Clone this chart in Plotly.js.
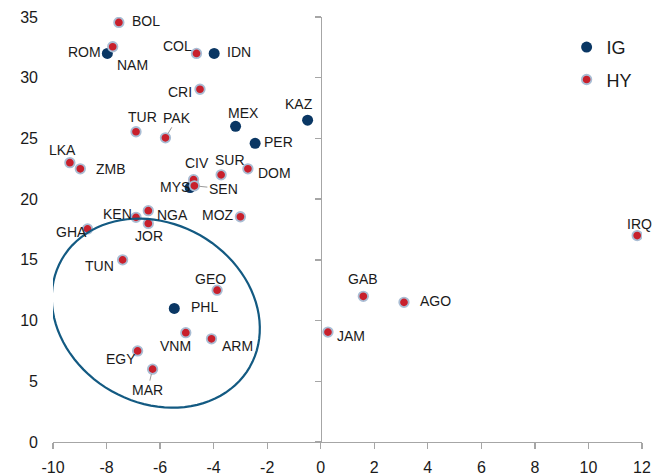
<!DOCTYPE html>
<html>
<head>
<meta charset="utf-8">
<script src="https://cdn.plot.ly/plotly-3.0.1.min.js"></script>
<style>html,body{margin:0;padding:0;background:#fff;}#chart{width:667px;height:474px;}</style>
</head>
<body>
<div id="chart"></div>
<script>
// ---- Data ----
const igCodes = ['NAM','IDN','MEX','KAZ','PER','MYS','PHL'];
const igX     = [-7.97, -3.98, -3.18, -0.49, -2.45, -4.88, -5.47];
const igY     = [32.0, 32.0, 26.0, 26.5, 24.6, 20.95, 11.0];

const hyCodes = ['BOL','ROM','COL','CRI','TUR','PAK','LKA','ZMB','SUR','DOM','CIV','SEN','MOZ','KEN','NGA','JOR','GHA','TUN','GEO','VNM','ARM','EGY','MAR','GAB','AGO','JAM','IRQ'];
const hyX     = [-7.54,-7.77,-4.64,-4.51,-6.90,-5.80,-9.37,-8.98,-3.72,-2.72,-4.75,-4.72,-3.00,-6.90,-6.44,-6.44,-8.71,-7.40,-3.87,-5.04,-4.08,-6.84,-6.28, 1.59, 3.11, 0.27,11.82];
const hyY     = [34.55,32.55,32.0,29.05,25.55,25.05,23.0,22.5,22.0,22.5,21.6,21.1,18.55,18.5,19.05,18.0,17.55,15.0,12.5,9.0,8.5,7.5,6.0,12.0,11.5,9.05,17.0];

const seriesNames = ['IG','HY'];
const xTicks = [-10,-8,-6,-4,-2,0,2,4,6,8,10,12];
const yTicks = [0,5,10,15,20,25,30,35];

// ---- Label placement (pixel offsets of label centre from its point; style, not data) ----
const igLabelOff = {NAM:[25,13], IDN:[25,0], MEX:[8,-12], KAZ:[-9,-15], PER:[23,0], MYS:[-15,0], PHL:[30,0]};
const hyLabelOff = {BOL:[27,0], ROM:[-28,6], COL:[-19,-6], CRI:[-20,4], TUR:[6,-14], PAK:[12,-20], LKA:[-7.5,-12], ZMB:[31,1],
  SUR:[9,-14], DOM:[27,5], CIV:[3,-16], SEN:[29,3], MOZ:[-22,-1], KEN:[-19,-2], NGA:[24,5], JOR:[1,14], GHA:[-16,4], TUN:[-23,7],
  GEO:[-7,-10], VNM:[-10,14], ARM:[26,8], EGY:[-17,9], MAR:[-5,21], GAB:[0,-16], AGO:[32,0], JAM:[23,5], IRQ:[2,-11]};
const leaders = ['PAK','SEN','MAR'];

// ---- Layout geometry ----
const W = 667, H = 474;
const M = {l:53, r:25, t:17, b:32, pad:0};
const xRange = [-10, 12], yRange = [0, 35];
const pxX = (W - M.l - M.r) / (xRange[1]-xRange[0]);
const pxY = (H - M.t - M.b) / (yRange[1]-yRange[0]);

const igColor = '#0a3764';
const hyColor = '#c8202c';
const hyBorder = '#a9bdd4';
const axisColor = '#a6a6a6';
const textColor = '#1a1a1a';
const font = 'Liberation Sans, Arial, sans-serif';

// ---- Highlight ellipse (decoration), defined in pixels around a data-space centre ----
const ell = {cx:-6.16, cy:10.61, a:108.3, b:89.6, rotDeg:29.7};
function ellipsePath(e){
  const th = e.rotDeg*Math.PI/180; let p = '';
  for (let i=0;i<=96;i++){
    const t = 2*Math.PI*i/96;
    const dx = e.a*Math.cos(t)*Math.cos(th) - e.b*Math.sin(t)*Math.sin(th);
    const dy = e.a*Math.cos(t)*Math.sin(th) + e.b*Math.sin(t)*Math.cos(th);
    const x = e.cx + dx/pxX, y = e.cy - dy/pxY;
    p += (i===0?'M':'L') + x.toFixed(4) + ',' + y.toFixed(4);
  }
  return p + 'Z';
}

// ---- Traces ----
const traces = [
  {type:'scatter', mode:'markers', name:seriesNames[0], x:igX, y:igY, text:igCodes, xaxis:'x', yaxis:'y',
   legendgroup:'a', marker:{color:igColor, size:11, line:{width:0}}, hoverinfo:'text+x+y'},
  {type:'scatter', mode:'markers', name:seriesNames[1], x:hyX, y:hyY, text:hyCodes, xaxis:'x', yaxis:'y2',
   legendgroup:'b', marker:{color:hyColor, size:9.5, line:{width:1.8, color:hyBorder}}, hoverinfo:'text+x+y'}
];

// ---- Annotations (labels) ----
const annotations = [];
function addLabels(codes, xs, ys, offs){
  codes.forEach((c,i)=>{
    const o = offs[c] || [0,-12];
    if (leaders.includes(c)){
      annotations.push({x:xs[i], y:ys[i], xref:'x', yref:'y', text:c, showarrow:true, ax:o[0], ay:o[1],
        arrowhead:0, arrowwidth:1, arrowcolor:'#9a9a9a', standoff:5, startstandoff:0,
        font:{family:font, size:14, color:textColor}});
    } else {
      annotations.push({x:xs[i], y:ys[i], xref:'x', yref:'y', text:c, showarrow:false,
        xshift:o[0], yshift:-o[1]+1, font:{family:font, size:14, color:textColor}});
    }
  });
}
addLabels(igCodes, igX, igY, igLabelOff);
addLabels(hyCodes, hyX, hyY, hyLabelOff);

const layout = {
  width:W, height:H, margin:M,
  paper_bgcolor:'#fff', plot_bgcolor:'#fff',
  font:{family:font, color:textColor},
  showlegend:true,
  legend:{x:0.872, y:0.972, xanchor:'left', yanchor:'top', bgcolor:'rgba(0,0,0,0)', borderwidth:0,
          font:{family:font, size:18, color:textColor}, itemwidth:30, tracegroupgap:6, traceorder:'grouped'},
  xaxis:{range:xRange, tickvals:xTicks, ticktext:xTicks.map(String), showgrid:false, zeroline:false,
         showline:true, linecolor:axisColor, linewidth:1.3, ticks:'outside', ticklen:6, tickcolor:axisColor, tickwidth:1.3,
         tickfont:{family:font, size:16, color:textColor}, ticklabelstandoff:4, fixedrange:true},
  yaxis:{range:yRange, tickvals:yTicks, ticktext:yTicks.map(String), showgrid:false, zeroline:false, showline:false,
         ticks:'', tickfont:{family:font, size:16, color:textColor}, ticklabelstandoff:14, fixedrange:true},
  yaxis2:{range:yRange, overlaying:'y', anchor:'free', position:(0-xRange[0])/(xRange[1]-xRange[0]), side:'left',
          tickvals:yTicks, showticklabels:false, showgrid:false, zeroline:false, showline:true, linecolor:axisColor, linewidth:1.3,
          ticks:'outside', ticklen:6, tickcolor:axisColor, tickwidth:1.3, fixedrange:true},
  shapes:[{type:'path', xref:'x', yref:'y', path:ellipsePath(ell), line:{color:'#135a82', width:2.2}, fillcolor:'rgba(0,0,0,0)', layer:'above'}],
  annotations:annotations
};

Plotly.newPlot('chart', traces, layout, {displayModeBar:false, staticPlot:true});
</script>
</body>
</html>
